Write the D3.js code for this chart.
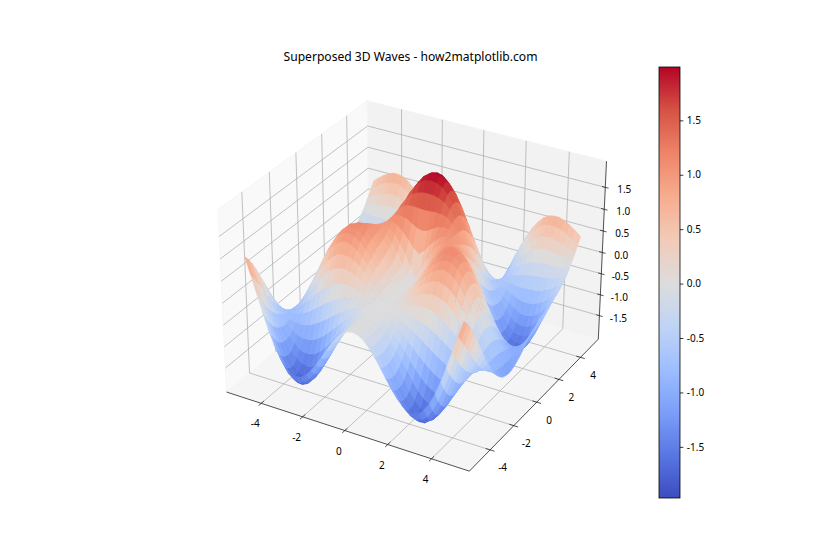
<!DOCTYPE html>
<html><head><meta charset="utf-8">
<script src="https://cdn.jsdelivr.net/npm/d3@7/dist/d3.min.js"></script>
<style>html,body{margin:0;padding:0;background:#fff}svg{display:block}text{font-family:"Noto Sans",sans-serif;fill:#000}</style>
</head><body><svg id="c" width="840" height="560"></svg>
<script>
const titleText = "Superposed 3D Waves - how2matplotlib.com";
const xTicks = [-4,-2,0,2,4];
const yTicks = [-4,-2,0,2,4];
const zTicks = [-1.5,-1,-0.5,0,0.5,1,1.5];
const cbTicks = [-1.5,-1,-0.5,0,0.5,1,1.5];
const coolwarm = ["#3b4cc0","#5977e3","#7b9ff9","#9ebeff","#c0d4f5","#dddcdc","#f2cbb7","#f7ac8e","#ee8468","#d65244","#b40426"];
const zMin = -1.97, zMax = 1.99;
// grid positions (the surface is mirror-symmetric in x, so only x >= 0 is listed)
const xHalf = [0,.25,.5,.75,1,1.25,1.5,1.75,2,2.25,2.5,2.75,3,3.25,3.5,3.75,4,4.25,4.5,4.75,5];
const yVals = [-5,-4.75,-4.5,-4.25,-4,-3.75,-3.5,-3.25,-3,-2.75,-2.5,-2.25,-2,-1.75,-1.5,-1.25,-1,-.75,-.5,-.25,0,.25,.5,.75,1,1.25,1.5,1.75,2,2.25,2.5,2.75,3,3.25,3.5,3.75,4,4.25,4.5,4.75,5];
const zRows = [
[.00,-.03,-.11,-.24,-.41,-.60,-.81,-1.01,-1.18,-1.32,-1.41,-1.43,-1.39,-1.27,-1.08,-.82,-.51,-.15,.23,.61,.98],
[.00,-.03,-.12,-.27,-.45,-.67,-.89,-1.12,-1.32,-1.48,-1.59,-1.64,-1.60,-1.50,-1.31,-1.05,-.73,-.36,.05,.46,.86],
[.00,-.03,-.12,-.27,-.47,-.69,-.93,-1.17,-1.38,-1.56,-1.69,-1.75,-1.74,-1.64,-1.47,-1.22,-.90,-.53,-.13,.29,.71],
[.00,-.03,-.12,-.27,-.46,-.68,-.92,-1.15,-1.37,-1.56,-1.69,-1.77,-1.77,-1.69,-1.54,-1.31,-1.02,-.67,-.28,.13,.53],
[.00,-.03,-.11,-.25,-.42,-.63,-.85,-1.08,-1.29,-1.47,-1.61,-1.69,-1.71,-1.66,-1.53,-1.34,-1.08,-.77,-.42,-.04,.33],
[.00,-.03,-.10,-.21,-.37,-.55,-.74,-.94,-1.13,-1.30,-1.44,-1.53,-1.56,-1.54,-1.45,-1.30,-1.09,-.83,-.53,-.21,.13],
[.00,-.02,-.08,-.17,-.29,-.43,-.59,-.76,-.92,-1.07,-1.20,-1.29,-1.34,-1.35,-1.30,-1.20,-1.06,-.86,-.62,-.36,-.08],
[.00,-.01,-.05,-.11,-.20,-.30,-.42,-.54,-.67,-.79,-.91,-1.00,-1.07,-1.10,-1.10,-1.06,-.98,-.85,-.69,-.50,-.29],
[.00,-.01,-.02,-.05,-.10,-.15,-.22,-.30,-.39,-.48,-.58,-.67,-.75,-.82,-.86,-.88,-.87,-.82,-.74,-.62,-.48],
[.00,.00,.00,.01,.01,.00,-.02,-.05,-.10,-.16,-.24,-.33,-.42,-.52,-.61,-.68,-.74,-.77,-.77,-.73,-.65],
[.00,.01,.03,.07,.11,.15,.18,.20,.19,.16,.10,.01,-.10,-.22,-.36,-.49,-.61,-.71,-.78,-.82,-.81],
[.00,.02,.06,.13,.21,.29,.37,.43,.46,.45,.40,.32,.20,.05,-.13,-.30,-.48,-.65,-.78,-.89,-.94],
[.00,.02,.08,.18,.30,.42,.53,.63,.69,.70,.67,.58,.45,.28,.08,-.15,-.38,-.60,-.79,-.94,-1.04],
[.00,.03,.11,.23,.37,.53,.67,.79,.87,.91,.88,.79,.65,.46,.22,-.03,-.30,-.55,-.79,-.98,-1.12],
[.00,.03,.13,.26,.44,.61,.78,.92,1.01,1.05,1.02,.93,.78,.57,.32,.04,-.25,-.53,-.79,-1.00,-1.16],
[.00,.04,.14,.30,.49,.68,.86,1.00,1.10,1.13,1.10,1.00,.83,.61,.34,.05,-.25,-.54,-.80,-1.02,-1.18],
[.00,.04,.16,.33,.53,.74,.91,1.05,1.14,1.16,1.11,.99,.81,.58,.31,.02,-.28,-.57,-.82,-1.02,-1.17],
[.00,.05,.19,.37,.58,.78,.95,1.07,1.13,1.12,1.05,.92,.72,.49,.22,-.07,-.36,-.62,-.85,-1.02,-1.14],
[.00,.07,.23,.43,.64,.82,.97,1.05,1.08,1.04,.94,.78,.57,.33,.06,-.21,-.46,-.69,-.88,-1.02,-1.09],
[.00,.11,.31,.53,.73,.88,.98,1.03,1.01,.93,.79,.60,.38,.13,-.13,-.38,-.60,-.79,-.93,-1.01,-1.03],
[.00,.25,.48,.68,.84,.95,1.00,.98,.91,.78,.60,.38,.14,-.11,-.35,-.57,-.76,-.90,-.98,-1.00,-.96],
[.49,.59,.75,.89,.99,1.04,1.02,.94,.80,.62,.39,.14,-.11,-.36,-.59,-.78,-.92,-1.01,-1.03,-.99,-.89],
[.96,.99,1.07,1.14,1.16,1.13,1.03,.88,.68,.44,.17,-.10,-.37,-.62,-.83,-.99,-1.09,-1.12,-1.08,-.98,-.81],
[1.36,1.37,1.38,1.37,1.32,1.21,1.04,.82,.56,.27,-.04,-.34,-.63,-.87,-1.06,-1.19,-1.25,-1.23,-1.13,-.97,-.75],
[1.68,1.67,1.64,1.57,1.44,1.27,1.03,.75,.44,.10,-.24,-.56,-.85,-1.09,-1.27,-1.36,-1.38,-1.32,-1.17,-.96,-.69],
[1.90,1.88,1.81,1.69,1.51,1.28,1.00,.67,.31,-.06,-.42,-.76,-1.05,-1.28,-1.43,-1.50,-1.49,-1.38,-1.20,-.94,-.64],
[1.99,1.97,1.88,1.72,1.51,1.24,.92,.57,.18,-.20,-.58,-.91,-1.20,-1.41,-1.55,-1.60,-1.56,-1.42,-1.21,-.93,-.59],
[1.97,1.94,1.83,1.67,1.43,1.15,.81,.44,.06,-.33,-.70,-1.03,-1.30,-1.50,-1.62,-1.65,-1.58,-1.43,-1.20,-.90,-.56],
[1.82,1.78,1.68,1.51,1.28,.99,.66,.30,-.07,-.44,-.79,-1.10,-1.35,-1.53,-1.63,-1.64,-1.57,-1.41,-1.17,-.87,-.53],
[1.56,1.52,1.43,1.27,1.05,.78,.48,.15,-.19,-.53,-.84,-1.12,-1.34,-1.50,-1.58,-1.58,-1.50,-1.34,-1.11,-.83,-.50],
[1.20,1.17,1.08,.95,.76,.53,.27,-.02,-.31,-.60,-.86,-1.10,-1.28,-1.41,-1.48,-1.47,-1.39,-1.24,-1.03,-.77,-.47],
[.76,.74,.67,.57,.42,.24,.04,-.19,-.42,-.64,-.85,-1.03,-1.18,-1.28,-1.32,-1.31,-1.24,-1.11,-.93,-.70,-.44],
[.28,.27,.22,.15,.06,-.06,-.20,-.35,-.51,-.66,-.80,-.93,-1.03,-1.10,-1.13,-1.11,-1.05,-.95,-.80,-.61,-.40],
[-.22,-.22,-.24,-.27,-.31,-.37,-.43,-.50,-.58,-.66,-.73,-.80,-.85,-.89,-.90,-.88,-.83,-.76,-.65,-.51,-.35],
[-.70,-.70,-.69,-.68,-.67,-.66,-.64,-.64,-.63,-.63,-.64,-.64,-.65,-.65,-.64,-.63,-.60,-.54,-.48,-.39,-.28],
[-1.14,-1.13,-1.10,-1.05,-.98,-.91,-.82,-.74,-.66,-.58,-.52,-.47,-.43,-.40,-.38,-.36,-.35,-.32,-.29,-.25,-.20],
[-1.51,-1.50,-1.44,-1.36,-1.24,-1.11,-.96,-.81,-.66,-.52,-.39,-.29,-.21,-.15,-.12,-.10,-.09,-.09,-.10,-.10,-.10],
[-1.79,-1.76,-1.69,-1.58,-1.42,-1.24,-1.04,-.83,-.63,-.43,-.26,-.11,.00,.09,.14,.16,.15,.13,.10,.06,.02],
[-1.96,-1.93,-1.84,-1.71,-1.52,-1.31,-1.07,-.82,-.57,-.33,-.12,.06,.20,.30,.37,.39,.38,.34,.29,.22,.15],
[-1.97,-1.97,-1.88,-1.73,-1.53,-1.30,-1.04,-.76,-.49,-.23,.01,.21,.37,.49,.56,.59,.58,.54,.47,.38,.29],
[-1.92,-1.89,-1.79,-1.64,-1.44,-1.21,-.94,-.67,-.38,-.12,.13,.34,.51,.64,.72,.75,.75,.70,.63,.54,.44]
];
const xVals = [...xHalf.slice(1).map(v=>-v).reverse(), ...xHalf];
const zGrid = zRows.map(r => [...r.slice(1).reverse(), ...r]);

const xLim=[-5.7,5.7], yLim=[-5.7,5.7], zLim=[-2.07,2.09];
const A=0.5952, C=0.4464, DIST=10;
const sxBox=d3.scaleLinear().domain(xLim).range([-A,A]);
const syBox=d3.scaleLinear().domain(yLim).range([-A,A]);
const szBox=d3.scaleLinear().domain(zLim).range([-C,C]);
const pxX=d3.scaleLinear().domain([0,1]).range([415.9,415.9+2336]);
const pxY=d3.scaleLinear().domain([0,1]).range([277,277-2330]);
function proj(x,y,z){
  const a=sxBox(x),b=syBox(y),c=szBox(z);
  const u=.8660254*a+.5*b, v=-.25*a+.4330127*b+.8660254*c, w=.4330127*a-.75*b+.5*c;
  const d=DIST-w;
  return {x:pxX(u/d),y:pxY(v/d),d};
}
const line=d3.line().x(p=>p.x).y(p=>p.y);
const svg=d3.select("#c");
const color=d3.scaleLinear().domain(coolwarm.map((c,i)=>zMin+(zMax-zMin)*i/10)).range(coolwarm).clamp(true);

svg.append("text").attr("x",410.5).attr("y",61).attr("text-anchor","middle").style("font-size","12.1px").text(titleText);

// panes
const [x0,x1]=xLim,[y0,y1]=yLim,[z0,z1]=zLim;
const panes=[
 {fill:"#f9f9f9",pts:[[x0,y0,z0],[x0,y1,z0],[x0,y1,z1],[x0,y0,z1]]},
 {fill:"#f2f2f2",pts:[[x0,y1,z0],[x1,y1,z0],[x1,y1,z1],[x0,y1,z1]]},
 {fill:"#f5f5f5",pts:[[x0,y0,z0],[x1,y0,z0],[x1,y1,z0],[x0,y1,z0]]}
];
svg.append("g").selectAll("path").data(panes).join("path")
 .attr("d",p=>line(p.pts.map(q=>proj(...q)))+"Z").attr("fill",p=>p.fill).attr("stroke","#f4f4f4").attr("stroke-width",.8);

// grid
const grid=[];
xTicks.forEach(t=>grid.push([[t,y0,z0],[t,y1,z0],[t,y1,z1]]));
yTicks.forEach(t=>grid.push([[x1,t,z0],[x0,t,z0],[x0,t,z1]]));
zTicks.forEach(t=>grid.push([[x0,y0,t],[x0,y1,t],[x1,y1,t]]));
svg.append("g").selectAll("path").data(grid).join("path")
 .attr("d",g=>line(g.map(q=>proj(...q)))).attr("fill","none").attr("stroke","#b0b0b0").attr("stroke-width",.78);

// axis lines and ticks
const axisLines=[[[x0,y0,z0],[x1,y0,z0]],[[x1,y0,z0],[x1,y1,z0]],[[x1,y1,z0],[x1,y1,z1]]];
const tickLines=[];
xTicks.forEach(t=>tickLines.push([[t,y0+.2,z0],[t,y0-.2,z0]]));
yTicks.forEach(t=>tickLines.push([[x1-.2,t,z0],[x1+.2,t,z0]]));
zTicks.forEach(t=>tickLines.push([[x1-.15,y1,t],[x1+.15,y1,t]]));
svg.append("g").selectAll("path").data([...axisLines,...tickLines]).join("path")
 .attr("d",g=>line(g.map(q=>proj(...q)))).attr("fill","none").attr("stroke","#222").attr("stroke-width",.78);

// surface
const cells=[];
for(let j=0;j<yVals.length-1;j++)for(let i=0;i<xVals.length-1;i++){
  const idx=[[i,j],[i+1,j],[i+1,j+1],[i,j+1]];
  const pts=idx.map(([a,b])=>proj(xVals[a],yVals[b],zGrid[b][a]));
  cells.push({pts,z:d3.mean(idx,([a,b])=>zGrid[b][a]),d:d3.mean(pts,p=>p.d)});
}
cells.sort((a,b)=>b.d-a.d);
svg.append("g").selectAll("path").data(cells).join("path")
 .attr("d",c=>line(c.pts)+"Z").attr("fill",c=>color(c.z)).attr("stroke",c=>color(c.z)).attr("stroke-width",.6).attr("stroke-linejoin","round");

// 3D tick labels
const lab=svg.append("g").style("font-size","10px");
const fmtZ=v=>d3.format(".1f")(v).replace("\u2212","-");
lab.selectAll(".xl").data(xTicks).join("text").attr("text-anchor","middle")
 .attr("x",t=>proj(t,y0,z0).x-6).attr("y",t=>proj(t,y0,z0).y+24).text(t=>String(t).replace("\u2212","-"));
lab.selectAll(".yl").data(yTicks).join("text").attr("class","yl").attr("text-anchor","middle")
 .attr("x",t=>proj(x1,t,z0).x+12.5).attr("y",t=>proj(x1,t,z0).y+21.5).text(t=>String(t));
lab.selectAll(".zl").data(zTicks).join("text").attr("class","zl").attr("text-anchor","middle")
 .attr("x",t=>proj(x1,y1,t).x+19).attr("y",t=>proj(x1,y1,t).y+6).text(fmtZ);

// colorbar
const defs=svg.append("defs");
const lg=defs.append("linearGradient").attr("id","cw").attr("x1",0).attr("x2",0).attr("y1",1).attr("y2",0);
lg.selectAll("stop").data(coolwarm).join("stop").attr("offset",(d,i)=>i/10).attr("stop-color",d=>d);
const cbY=d3.scaleLinear().domain([zMin,zMax]).range([498,67]);
svg.append("rect").attr("x",659).attr("y",67).attr("width",21).attr("height",431).attr("fill","url(#cw)").attr("stroke","#000").attr("stroke-width",.78);
const cbAxis=svg.append("g").attr("transform","translate(680,0)")
 .call(d3.axisRight(cbY).tickValues(cbTicks).tickFormat(fmtZ).tickSize(3.4).tickPadding(3.4));
cbAxis.select(".domain").remove();
cbAxis.selectAll("text").style("font-size","10px").style("font-family",'"Noto Sans",sans-serif');
cbAxis.selectAll("line").attr("stroke","#000").attr("stroke-width",.78);
</script></body></html>
